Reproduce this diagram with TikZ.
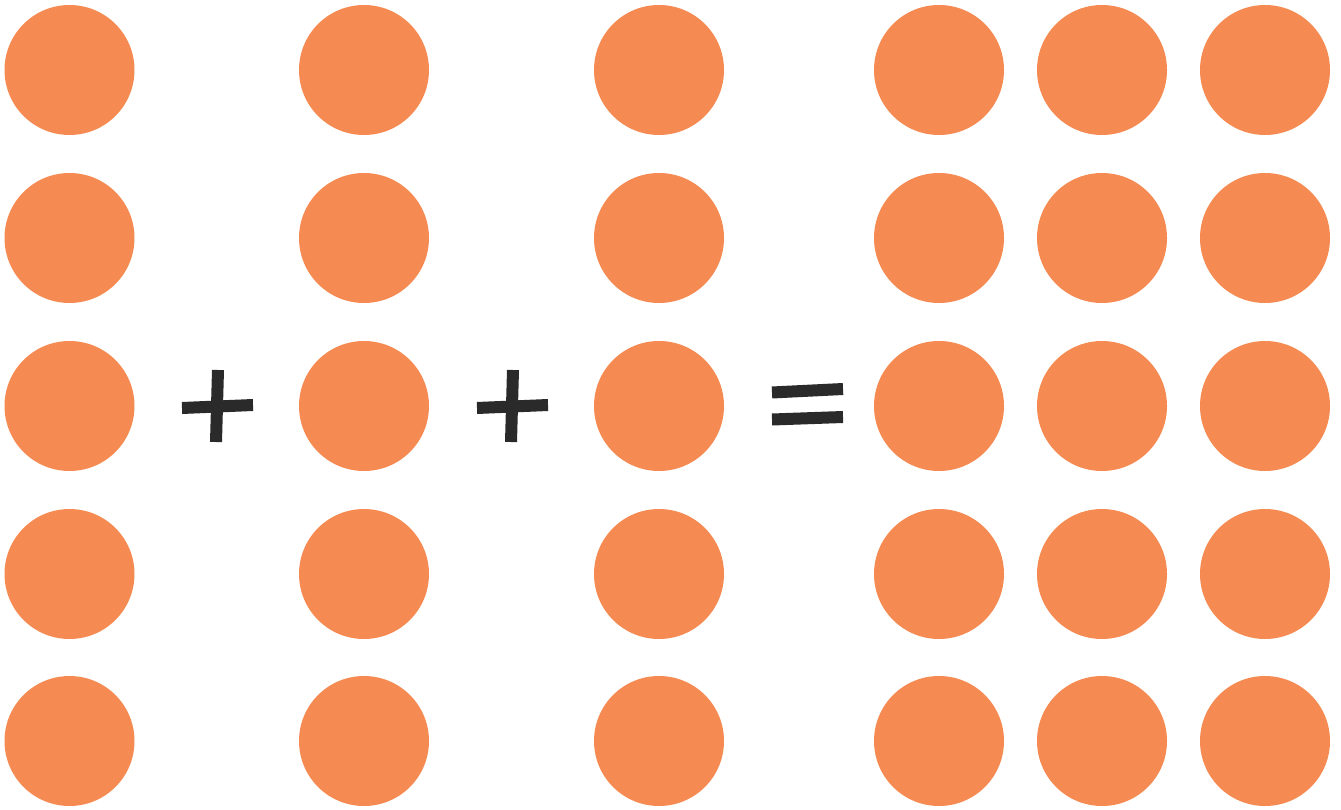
\documentclass[tikz,border=0pt]{standalone}
\definecolor{dot}{HTML}{F58B53}
\definecolor{ink}{HTML}{2A2A2A}
\tikzset{
  dotc/.style={circle, fill=dot, minimum size=130pt, inner sep=0pt, draw=none},
  bar/.style={draw=ink, line width=12pt, line cap=butt}
}
\begin{document}
\begin{tikzpicture}[x=1pt,y=-1pt]
\useasboundingbox (0,0) rectangle (1341,810);
\foreach \c/\x in {1/69.5,2/364,3/659,4/939,5/1102,6/1265}{
  \foreach \r/\y in {1/70,2/238,3/406,4/574,5/741}{
    \node[dotc] (d\c\r) at (\x,\y) {};
  }
}
% plus signs
\coordinate (p1l) at (182,408); \coordinate (p1r) at (253,405);
\coordinate (p1t) at (218,370); \coordinate (p1b) at (216,442);
\draw[bar] (p1l) -- (p1r);
\draw[bar] (p1t) -- (p1b);
\coordinate (p2l) at (477,408); \coordinate (p2r) at (548,405);
\coordinate (p2t) at (513,370); \coordinate (p2b) at (511,442);
\draw[bar] (p2l) -- (p2r);
\draw[bar] (p2t) -- (p2b);
% equals sign
\coordinate (e1l) at (772,392.5); \coordinate (e1r) at (843,389);
\coordinate (e2l) at (772,419.5); \coordinate (e2r) at (843,417);
\draw[bar] (e1l) -- (e1r);
\draw[bar] (e2l) -- (e2r);
\end{tikzpicture}
\end{document}
